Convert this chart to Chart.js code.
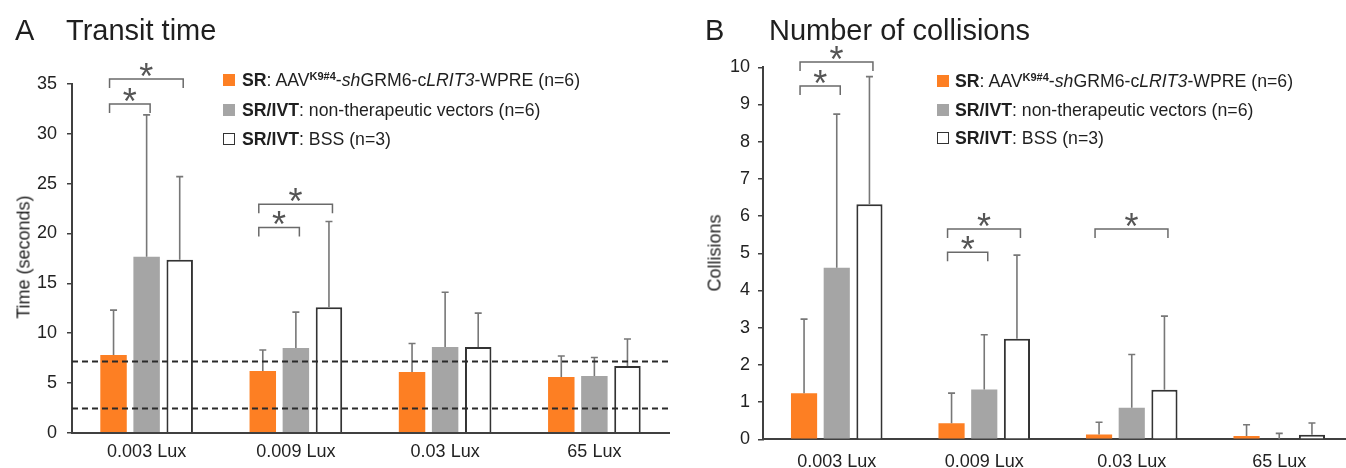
<!DOCTYPE html>
<html>
<head>
<meta charset="utf-8">
<script src="https://cdn.jsdelivr.net/npm/chart.js@4.4.1/dist/chart.umd.min.js"></script>
<style>
  html, body { margin: 0; padding: 0; background: #fff; }
  body { width: 1346px; height: 468px; overflow: hidden; position: relative;
         font-family: Arial, "Liberation Sans", sans-serif; color: #1f1f1f; }
  .panel { position: absolute; top: 0; width: 680px; height: 468px; }
  #panelA { left: 0; }
  #panelB { left: 680px; }
  .panel canvas { position: absolute; left: 0; top: 0; }
  .title { position: absolute; top: 15.5px; font-size: 29px; line-height: 29px; white-space: nowrap; }
  .ytitle { position: absolute; font-size: 18px; white-space: nowrap; transform: translate(-50%, -50%) rotate(-90deg); }
  .leg { position: absolute; height: 20px; display: flex; align-items: center; white-space: nowrap; font-size: 17.7px; }
  .sw { width: 12px; height: 12px; box-sizing: border-box; margin-right: 7px; flex: none; }
  .sup { font-size: 11px; font-weight: bold; position: relative; top: -6px; }
</style>
</head>
<body>
<div class="panel" id="panelA">
  <canvas id="chartA" width="680" height="468"></canvas>
  <div class="title" style="left:15px">A</div>
  <div class="title" style="left:66px">Transit time</div>
  <div class="ytitle" style="left:24px; top:257px">Time (seconds)</div>
  <div class="leg" style="left:223px; top:70px"><div class="sw" style="background:#fd7f23"></div><span><b>SR</b>: AAV<span class="sup">K9#4</span>-<i>sh</i>GRM6-c<i>LRIT3</i>-WPRE (n=6)</span></div>
  <div class="leg" style="left:223px; top:100px"><div class="sw" style="background:#a5a5a5"></div><span><b>SR/IVT</b>: non-therapeutic vectors (n=6)</span></div>
  <div class="leg" style="left:223px; top:129px"><div class="sw" style="border:1.5px solid #333; background:#fff"></div><span><b>SR/IVT</b>: BSS (n=3)</span></div>
</div>
<div class="panel" id="panelB">
  <canvas id="chartB" width="680" height="468"></canvas>
  <div class="title" style="left:25px">B</div>
  <div class="title" style="left:89px">Number of collisions</div>
  <div class="ytitle" style="left:34.5px; top:253px">Collisions</div>
  <div class="leg" style="left:257px; top:71px"><div class="sw" style="background:#fd7f23; margin-right:6px"></div><span><b>SR</b>: AAV<span class="sup">K9#4</span>-<i>sh</i>GRM6-c<i>LRIT3</i>-WPRE (n=6)</span></div>
  <div class="leg" style="left:257px; top:100px"><div class="sw" style="background:#a5a5a5; margin-right:6px"></div><span><b>SR/IVT</b>: non-therapeutic vectors (n=6)</span></div>
  <div class="leg" style="left:257px; top:128px"><div class="sw" style="border:1.5px solid #333; background:#fff; margin-right:6px"></div><span><b>SR/IVT</b>: BSS (n=3)</span></div>
</div>
<script>
// categories (light levels)
var categories = ['0.003 Lux', '0.009 Lux', '0.03 Lux', '65 Lux'];

// transit time (seconds): means and SD (upper error bar only)
var timeSR = [7.8, 6.2, 6.1, 5.6];
var timeSR_sd = [4.5, 2.1, 2.85, 2.1];
var timeNT = [17.65, 8.5, 8.6, 5.7];
var timeNT_sd = [14.25, 3.6, 5.5, 1.85];
var timeBSS = [17.35, 12.6, 8.6, 6.7];
var timeBSS_sd = [8.35, 8.6, 3.4, 2.7];
var timeRefLines = [7.2, 2.45];   // dashed lines
var timeTicks = {min: 0, max: 35, step: 5};

// number of collisions
var collSR = [1.24, 0.43, 0.13, 0.09];
var collSR_sd = [1.99, 0.81, 0.33, 0.30];
var collNT = [4.61, 1.34, 0.85, 0];
var collNT_sd = [4.13, 1.47, 1.43, 0.16];
var collBSS = [6.32, 2.70, 1.33, 0.12];
var collBSS_sd = [3.43, 2.25, 1.98, 0.32];
var collTicks = {min: 0, max: 10, step: 1};

// significance brackets: [category, from series, to series, height in data units]
var timeBrackets = [[0, 0, 1, 33.0], [0, 0, 2, 35.5], [1, 0, 1, 20.6], [1, 0, 2, 22.94]];
var collBrackets = [[0, 0, 1, 9.50], [0, 0, 2, 10.14], [1, 0, 1, 5.03], [1, 0, 2, 5.65], [2, 0, 2, 5.65]];

var ORANGE = '#fd7f23', GRAY = '#a5a5a5', AXIS = '#404040';

// draws error bars, dashed reference lines and significance brackets
var extras = {
  id: 'extras',
  afterDatasetsDraw: function(chart, args, opts) {
    var ctx = chart.ctx, y = chart.scales.y, area = chart.chartArea;
    ctx.save();
    // error bars
    ctx.strokeStyle = '#777';
    ctx.lineWidth = 1.6;
    chart.data.datasets.forEach(function(ds, i) {
      chart.getDatasetMeta(i).data.forEach(function(bar, j) {
        var y0 = y.getPixelForValue(ds.data[j]);
        var y1 = y.getPixelForValue(ds.data[j] + ds.errors[j]);
        ctx.beginPath();
        ctx.moveTo(bar.x, y0);
        ctx.lineTo(bar.x, y1);
        ctx.moveTo(bar.x - 3.5, y1);
        ctx.lineTo(bar.x + 3.5, y1);
        ctx.stroke();
      });
    });
    // dashed lines
    ctx.strokeStyle = '#2a2a2a';
    ctx.lineWidth = 1.8;
    ctx.setLineDash([6, 4]);
    (opts.refLines || []).forEach(function(v) {
      var py = Math.round(y.getPixelForValue(v)) + 0.5;
      ctx.beginPath();
      ctx.moveTo(area.left, py);
      ctx.lineTo(area.right, py);
      ctx.stroke();
    });
    ctx.setLineDash([]);
    // brackets with asterisks
    ctx.strokeStyle = '#6a6a6a';
    ctx.lineWidth = 1.5;
    ctx.fillStyle = '#555';
    ctx.font = '36px Arial, "Liberation Sans"';
    ctx.textAlign = 'center';
    ctx.textBaseline = 'alphabetic';
    (opts.brackets || []).forEach(function(b) {
      var x1 = chart.getDatasetMeta(b[1]).data[b[0]].x - 4;
      var x2 = chart.getDatasetMeta(b[2]).data[b[0]].x + 3.5;
      var py = y.getPixelForValue(b[3]);
      ctx.beginPath();
      ctx.moveTo(x1, py + 9);
      ctx.lineTo(x1, py);
      ctx.lineTo(x2, py);
      ctx.lineTo(x2, py + 9);
      ctx.stroke();
      ctx.fillText('*', (x1 + x2) / 2, py - 11 + 20.7);
    });
    ctx.restore();
  }
};

function makeChart(id, series, errs, ticks, cfg) {
  var ctx = document.getElementById(id).getContext('2d');
  return new Chart(ctx, {
    type: 'bar',
    data: {
      labels: categories,
      datasets: [
        {data: series[0], errors: errs[0], backgroundColor: ORANGE, borderWidth: 0},
        {data: series[1], errors: errs[1], backgroundColor: GRAY, borderWidth: 0},
        {data: series[2], errors: errs[2], backgroundColor: '#fff', borderColor: '#333', borderWidth: 2}
      ]
    },
    options: {
      responsive: false,
      animation: false,
      layout: {padding: cfg.padding},
      datasets: {bar: {categoryPercentage: 0.665, barPercentage: 0.8}},
      plugins: {
        legend: {display: false},
        tooltip: {enabled: false},
        extras: {refLines: cfg.refLines, brackets: cfg.brackets}
      },
      scales: {
        x: {
          grid: {display: false, drawTicks: false},
          border: {display: true, color: AXIS, width: 2},
          ticks: {color: '#222', font: {family: 'Arial, "Liberation Sans"', size: 18}, padding: cfg.xPad, maxRotation: 0},
          afterFit: function(s) { s.height = cfg.xHeight; }
        },
        y: {
          min: ticks.min, max: ticks.max,
          grid: {drawOnChartArea: false, drawTicks: true, tickLength: 5, color: AXIS, lineWidth: 1.5},
          border: {display: true, color: AXIS, width: 2},
          ticks: {stepSize: ticks.step, color: '#222', font: {family: 'Arial, "Liberation Sans"', size: 18}, padding: cfg.yPad},
          afterFit: function(s) { s.width = cfg.yWidth; }
        }
      }
    },
    plugins: [extras]
  });
}

makeChart('chartA', [timeSR, timeNT, timeBSS], [timeSR_sd, timeNT_sd, timeBSS_sd], timeTicks, {
  padding: {left: 0, right: 11, top: 84, bottom: 0},
  yWidth: 72, xHeight: 35.3, xPad: 9, yPad: 10, yFont: 18,
  refLines: timeRefLines, brackets: timeBrackets
});

makeChart('chartB', [collSR, collNT, collBSS], [collSR_sd, collNT_sd, collBSS_sd], collTicks, {
  padding: {left: 0, right: 7, top: 67.3, bottom: 0},
  yWidth: 83, xHeight: 28.7, xPad: 12, yPad: 8, yFont: 18,
  refLines: [], brackets: collBrackets
});
</script>
</body>
</html>
